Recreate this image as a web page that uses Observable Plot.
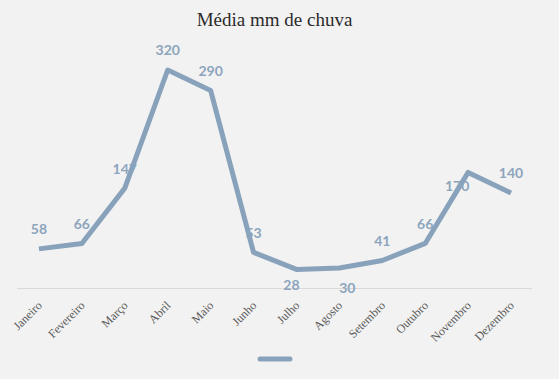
<!DOCTYPE html>
<html>
<head>
<meta charset="utf-8">
<script src="https://cdn.jsdelivr.net/npm/d3@7"></script>
<script src="https://cdn.jsdelivr.net/npm/@observablehq/plot@0.6"></script>
<style>
  html, body { margin: 0; padding: 0; background: #f2f2f2; }
  #wrap { width: 559px; height: 379px; position: relative; overflow: hidden; }
  #title { height: 40px; line-height: 40px; text-align: center; font-family: "Liberation Serif", serif; font-size: 19px; color: #2b2b2b; width: 549px; }
  #legend { position: absolute; left: 0; top: 354px; height: 10px; display: flex; justify-content: center; align-items: center; width: 549px; }
</style>
</head>
<body>
<div id="wrap">
  <div id="title">Média mm de chuva</div>
  <div id="chart"></div>
  <div id="legend"><svg width="36" height="10"><line x1="3" y1="5" x2="33" y2="5" stroke="#88a2bb" stroke-width="5" stroke-linecap="round"/></svg></div>
</div>
<script>
const months = ["Janeiro","Fevereiro","Março","Abril","Maio","Junho","Julho","Agosto","Setembro","Outubro","Novembro","Dezembro"];
const rainfall = [58, 66, 147, 320, 290, 53, 28, 30, 41, 66, 170, 140];

const data = months.map((m, i) => ({month: m, value: rainfall[i]}));
const lineColor = "#88a2bb";
const labelColor = "#8ca5bd";
const below = new Set(["Julho"]);
const below2 = new Set(["Agosto"]);
const left = new Set(["Novembro"]);
const normal = data.filter(d => !below.has(d.month) && !below2.has(d.month) && !left.has(d.month));

const labelStyle = {x: "month", y: "value", text: d => String(d.value), fill: labelColor,
  fontFamily: "Lato, sans-serif", fontWeight: "bold", fontSize: 14};

const chart = Plot.plot({
  width: 559,
  height: 310,
  marginLeft: 17,
  marginRight: 27,
  marginTop: 9,
  marginBottom: 62,
  style: {background: "transparent", color: "#595959"},
  x: {type: "point", domain: months, padding: 0.5, round: false, axis: null},
  y: {domain: [0, 350], axis: null},
  marks: [
    Plot.ruleY([0], {stroke: "#d9d9d9", strokeWidth: 1}),
    Plot.text(months, {x: d => d, frameAnchor: "bottom", rotate: -45, textAnchor: "end", lineAnchor: "middle",
      dx: 1, dy: 15, fontSize: 12, fontFamily: "Liberation Serif, serif", fill: "#595959"}),
    Plot.line(data, {x: "month", y: "value", stroke: lineColor, strokeWidth: 5, strokeLinejoin: "round", strokeLinecap: "butt"}),
    Plot.text(normal, {...labelStyle, dy: -19}),
    Plot.text(data.filter(d => below.has(d.month)), {...labelStyle, dx: -5, dy: 16}),
    Plot.text(data.filter(d => below2.has(d.month)), {...labelStyle, dx: 8, dy: 21}),
    Plot.text(data.filter(d => left.has(d.month)), {...labelStyle, dx: -11, dy: 14})
  ]
});
document.getElementById("chart").appendChild(chart);
</script>
</body>
</html>
